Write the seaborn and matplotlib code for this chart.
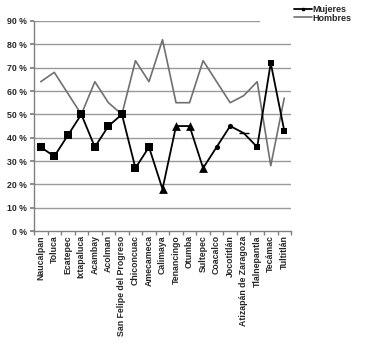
import matplotlib
matplotlib.use("Agg")
import matplotlib.pyplot as plt
import seaborn as sns
import pandas as pd
import numpy as np
from matplotlib.ticker import FuncFormatter, FixedLocator
from matplotlib.lines import Line2D

categories = ["Naucalpan", "Toluca", "Ecatepec", "Ixtapaluca", "Acambay", "Acolman",
              "San Felipe del Progreso", "Chiconcuac", "Amecameca", "Calimaya",
              "Tenancingo", "Otumba", "Sultepec", "Coacalco", "Jocotitlán",
              "Atizapán de Zaragoza", "Tlalnepantla", "Tecámac", "Tultitlán"]
mujeres = [36, 32, 41, 50, 36, 45, 50, 27, 36, 18, 45, 45, 27, 36, 45, 42, 36, 72, 43]
hombres = [64, 68, 59, 50, 64, 55, 50, 73, 64, 82, 55, 55, 73, 64, 55, 58, 64, 28, 57]
marker_kind = ["bigsq"] * 9 + ["tri"] * 4 + ["dot"] * 2 + ["dash"] + ["smsq"] * 3

sns.set_theme(style="white")
plt.rcParams['font.family'] = ['Liberation Sans', 'DejaVu Sans']

df = pd.DataFrame({"cat": categories, "x": np.arange(len(categories)),
                   "Mujeres": np.array(mujeres) / 100, "Hombres": np.array(hombres) / 100,
                   "kind": marker_kind})

fig = plt.figure(figsize=(3.67, 3.47), dpi=100)
ax = fig.add_axes([0.0926, 0.334, 0.7004, 0.6055])

for yv in np.arange(0.1, 0.91, 0.1):
    xmax = 0.875 if yv > 0.85 else 1.0
    ax.axhline(yv, xmin=0, xmax=xmax, color="#999999", lw=1.0, zorder=0)

sns.lineplot(data=df, x="x", y="Hombres", ax=ax, color="#707070", lw=1.2, label="Hombres", zorder=2)
sns.lineplot(data=df, x="x", y="Mujeres", ax=ax, color="black", lw=1.3, label="Mujeres", zorder=3)

markers = {"bigsq": "s", "tri": "^", "dot": "o", "dash": "_", "smsq": "s"}
sizes = {"bigsq": 40, "tri": 40, "dot": 14, "dash": 60, "smsq": 18}
for k in markers:
    sub = df[df.kind == k]
    sns.scatterplot(data=sub, x="x", y="Mujeres", ax=ax, marker=markers[k], s=sizes[k],
                    color="black", edgecolor="black", linewidth=1.0 if k == "dash" else 0,
                    zorder=4, legend=False)

ax.set_xlim(-0.5, len(categories) - 0.5)
ax.set_ylim(0, 0.9)
ax.yaxis.set_major_locator(FixedLocator(np.arange(0, 0.91, 0.1)))
ax.yaxis.set_major_formatter(FuncFormatter(lambda v, p: f"{v*100:.0f} %"))
ax.set_xticks(np.arange(len(categories)))
ax.set_xticklabels(categories, rotation=90, fontsize=6.3, fontweight="bold")
ax.set_xticks(np.arange(-0.5, len(categories), 1), minor=True)
ax.tick_params(axis="x", which="major", length=0, pad=3)
ax.tick_params(axis="x", which="minor", length=3, color="#808080", direction="out", bottom=True)
ax.tick_params(axis="y", which="major", length=3, color="#808080", labelsize=6.3, left=True, pad=2)
for lab in ax.get_yticklabels():
    lab.set_fontweight("bold")
ax.set_xlabel("")
ax.set_ylabel("")
for s in ["top", "right"]:
    ax.spines[s].set_visible(False)
for s in ["left", "bottom"]:
    ax.spines[s].set_color("#808080")
    ax.spines[s].set_linewidth(1.0)

hm = Line2D([], [], color="black", lw=1.3, marker="s", markersize=2)
hh = Line2D([], [], color="#707070", lw=1.2)
leg = fig.legend([hm, hh], ["Mujeres", "Hombres"], loc="upper left",
                 bbox_to_anchor=(0.785, 1.0), frameon=False, fontsize=6.5,
                 handlelength=2.0, handletextpad=0.1, labelspacing=-0.1,
                 borderaxespad=0.2)
for t in leg.get_texts():
    t.set_fontweight("bold")
ax.get_legend().remove()

fig.savefig("out.png", dpi=100)
